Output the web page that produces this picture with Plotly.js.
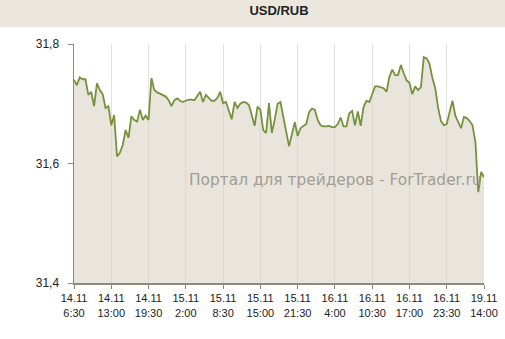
<!DOCTYPE html>
<html>
<head>
<meta charset="utf-8">
<script src="https://cdn.plot.ly/plotly-3.0.1.min.js"></script>
<style>html,body{margin:0;padding:0;background:#fff;}#chart{width:505px;height:339px;}</style>
</head>
<body>
<div id="chart"></div>
<script>
// USD/RUB half-hourly quotes, 14.11 6:30 – 19.11 14:00
const rates = [
  31.740, 31.731, 31.744, 31.741, 31.741, 31.715, 31.720, 31.696, 31.734, 31.723,
  31.716, 31.693, 31.696, 31.664, 31.681, 31.612, 31.618, 31.631, 31.656, 31.643,
  31.679, 31.673, 31.670, 31.690, 31.673, 31.680, 31.673, 31.743, 31.723, 31.719,
  31.717, 31.715, 31.712, 31.706, 31.696, 31.706, 31.709, 31.705, 31.703, 31.705,
  31.707, 31.707, 31.706, 31.713, 31.720, 31.703, 31.715, 31.710, 31.705, 31.705,
  31.710, 31.720, 31.701, 31.703, 31.690, 31.674, 31.703, 31.693, 31.700, 31.703,
  31.702, 31.698, 31.681, 31.663, 31.695, 31.690, 31.656, 31.651, 31.701, 31.651,
  31.673, 31.700, 31.703, 31.676, 31.653, 31.629, 31.649, 31.669, 31.646, 31.659,
  31.663, 31.666, 31.686, 31.692, 31.690, 31.673, 31.664, 31.662, 31.662, 31.663,
  31.661, 31.661, 31.666, 31.677, 31.662, 31.662, 31.684, 31.688, 31.664, 31.687,
  31.663, 31.695, 31.705, 31.703, 31.716, 31.729, 31.729, 31.728, 31.726, 31.720,
  31.745, 31.757, 31.748, 31.748, 31.765, 31.751, 31.739, 31.735, 31.716, 31.729,
  31.723, 31.728, 31.778, 31.776, 31.767, 31.743, 31.726, 31.693, 31.671, 31.664,
  31.666, 31.686, 31.705, 31.680, 31.669, 31.659, 31.678, 31.676, 31.671, 31.664,
  31.636, 31.552, 31.586, 31.577
];
const tickDates = ['14.11','14.11','14.11','15.11','15.11','15.11','15.11','16.11','16.11','16.11','16.11','19.11'];
const tickTimes = ['6:30','13:00','19:30','2:00','8:30','15:00','21:30','4:00','10:30','17:00','23:30','14:00'];
const tickStep = 13; // bars between labelled ticks
const yTickVals = [31.4, 31.6, 31.8];
const yTickText = ['31,4', '31,6', '31,8'];

const xIdx = rates.map((_, i) => i);
const xTickVals = tickDates.map((_, i) => i * tickStep);
const xTickText = tickDates.map((d, i) => d + '<br>' + tickTimes[i]);

const trace = {
  x: xIdx, y: rates, type: 'scatter', mode: 'lines',
  line: {color: '#76923C', width: 1.8},
  fill: 'tozeroy', fillcolor: 'rgba(218,211,196,0.6)',
  hoverinfo: 'skip'
};

const layout = {
  width: 505, height: 339,
  margin: {l: 74, r: 21, t: 44, b: 56},
  paper_bgcolor: '#ffffff', plot_bgcolor: '#ffffff',
  showlegend: false,
  font: {family: 'Liberation Sans, Arial, sans-serif', color: '#222'},
  title: {text: '<b>USD/RUB</b>', x: 0.5, xref: 'paper', xanchor: 'center', y: 1, yref: 'container', yanchor: 'top', pad: {t: 6},
          font: {family: 'Liberation Sans, Arial, sans-serif', size: 13, color: '#222'}},
  xaxis: {
    range: [0, rates.length - 1], tickmode: 'array', tickvals: xTickVals, ticktext: xTickText,
    showgrid: true, gridcolor: '#E2E2E2', gridwidth: 1, zeroline: false,
    showline: true, linecolor: '#8E8C78', linewidth: 2,
    ticks: 'outside', ticklen: 4, tickcolor: '#8E8C78', tickwidth: 1,
    tickfont: {size: 11, color: '#222'}, tickangle: 0, fixedrange: true
  },
  yaxis: {
    range: [31.4, 31.8], tickmode: 'array', tickvals: yTickVals, ticktext: yTickText,
    showgrid: false, zeroline: false,
    showline: true, linecolor: '#8A8A8A', linewidth: 1.5,
    ticks: 'outside', ticklen: 5, tickcolor: '#8A8A8A', ticklabelstandoff: 6,
    tickfont: {size: 12, color: '#222'}, fixedrange: true
  },
  shapes: [{type: 'rect', xref: 'paper', yref: 'paper', x0: -0.2, x1: 1.1, y0: 1.071, y1: 1.2,
            fillcolor: '#EBE7DF', line: {width: 0}, layer: 'below'}],
  annotations: [{text: 'Портал для трейдеров - ForTrader.ru', xref: 'paper', yref: 'paper',
                 x: 1, y: 0.43, xanchor: 'right', yanchor: 'middle', showarrow: false,
                 font: {family: 'DejaVu Sans, Verdana, sans-serif', size: 15.4, color: '#A39D94'}}]
};

Plotly.newPlot('chart', [trace], layout, {displayModeBar: false, staticPlot: true});
</script>
</body>
</html>
